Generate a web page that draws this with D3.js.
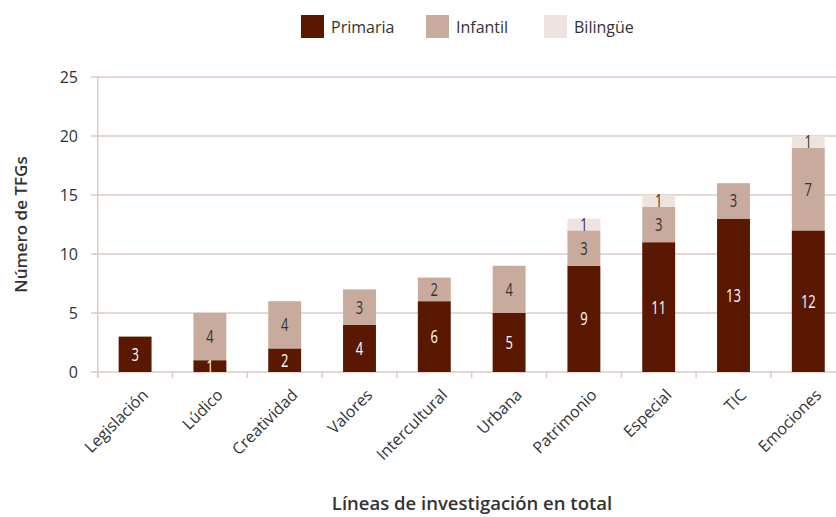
<!DOCTYPE html>
<html>
<head>
<meta charset="utf-8">
<script src="https://cdn.jsdelivr.net/npm/d3@7"></script>
<style>
  body { margin: 0; background: #fff; }
  text { font-family: "Open Sans", "Noto Sans", sans-serif; }
</style>
</head>
<body>
<div id="chart"></div>
<script>
const categories = ['Legislación', 'Lúdico', 'Creatividad', 'Valores', 'Intercultural', 'Urbana', 'Patrimonio', 'Especial', 'TIC', 'Emociones'];
const primaria = [3, 1, 2, 4, 6, 5, 9, 11, 13, 12];
const infantil = [0, 4, 4, 3, 2, 4, 3, 3, 3, 7];
const bilingue = [0, 0, 0, 0, 0, 0, 1, 1, 0, 1];
const seriesNames = ['Primaria', 'Infantil', 'Bilingüe'];
const yTicks = [0, 5, 10, 15, 20, 25];

const colors = ['#5a1800', '#c9ab9d', '#efe3df'];
const labelColors = ['#fff', '#333', '#333'];
const gridColor = '#ddcbc3';

const width = 836, height = 517;
const margin = { top: 77, left: 97.7, bottom: 145 };

const svg = d3.select('#chart')
  .append('svg')
  .attr('width', width)
  .attr('height', height);

// table for the stack
const rows = categories.map((c, i) => ({ cat: c, Primaria: primaria[i], Infantil: infantil[i], 'Bilingüe': bilingue[i] }));
const stacked = d3.stack().keys(seriesNames)(rows);

const x = d3.scaleBand()
  .domain(categories)
  .range([margin.left, margin.left + 748])
  .paddingInner(0.56)
  .paddingOuter(0.28);

const y = d3.scaleLinear()
  .domain([0, 25])
  .range([372, margin.top]);

// gridlines
svg.append('g')
  .selectAll('line')
  .data(yTicks)
  .join('line')
  .attr('x1', 91)
  .attr('x2', width)
  .attr('y1', d => y(d))
  .attr('y2', d => y(d))
  .attr('stroke', gridColor)
  .attr('stroke-width', 1.5);

// y axis line
svg.append('line')
  .attr('x1', margin.left).attr('x2', margin.left)
  .attr('y1', y(25)).attr('y2', y(0) + 6)
  .attr('stroke', gridColor)
  .attr('stroke-width', 1.5);

// x tick marks at band boundaries
const step = x.step();
svg.append('g')
  .selectAll('line')
  .data(categories)
  .join('line')
  .attr('x1', d => x(d) - step * x.paddingInner() / 2)
  .attr('x2', d => x(d) - step * x.paddingInner() / 2)
  .attr('y1', y(0))
  .attr('y2', y(0) + 6)
  .attr('stroke', gridColor)
  .attr('stroke-width', 1.5);

// y tick labels
svg.append('g')
  .selectAll('text')
  .data(yTicks)
  .join('text')
  .attr('x', 78)
  .attr('y', d => y(d))
  .attr('dy', '0.36em')
  .attr('text-anchor', 'end')
  .style('font-size', '16px')
  .style('fill', '#333')
  .text(d => d);

// bars
const layers = svg.append('g')
  .selectAll('g')
  .data(stacked)
  .join('g')
  .attr('fill', (d, i) => colors[i]);

layers.selectAll('rect')
  .data(d => d)
  .join('rect')
  .attr('x', d => x(d.data.cat))
  .attr('width', x.bandwidth())
  .attr('y', d => y(d[1]))
  .attr('height', d => y(d[0]) - y(d[1]));

// value labels (condensed look)
stacked.forEach((layer, i) => {
  svg.append('g')
    .selectAll('text')
    .data(layer.filter(d => d[1] - d[0] > 0))
    .join('text')
    .attr('transform', d => `translate(${x(d.data.cat) + x.bandwidth() / 2},${(y(d[0]) + y(d[1])) / 2}) scale(0.72,1)`)
    .attr('dy', '0.36em')
    .attr('text-anchor', 'middle')
    .style('font-size', '18px')
    .style('fill', labelColors[i])
    .text(d => d[1] - d[0]);
});

// x labels
svg.append('g')
  .selectAll('text')
  .data(categories)
  .join('text')
  .attr('transform', d => `translate(${x(d) + x.bandwidth() / 2 + 14},${y(0) + 24}) rotate(-45)`)
  .attr('text-anchor', 'end')
  .style('font-size', '16px')
  .style('fill', '#333')
  .text(d => d);

// axis titles
svg.append('text')
  .attr('transform', `translate(27,${y(12.5)}) rotate(-90)`)
  .attr('text-anchor', 'middle')
  .style('font-size', '17px')
  .style('font-weight', '600')
  .style('fill', '#333')
  .text('Número de TFGs');

svg.append('text')
  .attr('x', 472)
  .attr('y', 510)
  .attr('text-anchor', 'middle')
  .style('font-size', '18.5px')
  .style('font-weight', '600')
  .style('fill', '#333')
  .text('Líneas de investigación en total');

// legend
const legendX = [301, 426, 544];
const legend = svg.append('g')
  .selectAll('g')
  .data(seriesNames)
  .join('g')
  .attr('transform', (d, i) => `translate(${legendX[i]},15)`);

legend.append('rect')
  .attr('width', 23)
  .attr('height', 23)
  .attr('fill', (d, i) => colors[i]);

legend.append('text')
  .attr('x', 30)
  .attr('y', 12)
  .attr('dy', '0.36em')
  .style('font-size', '16px')
  .style('fill', '#333')
  .text(d => d);
</script>
</body>
</html>
